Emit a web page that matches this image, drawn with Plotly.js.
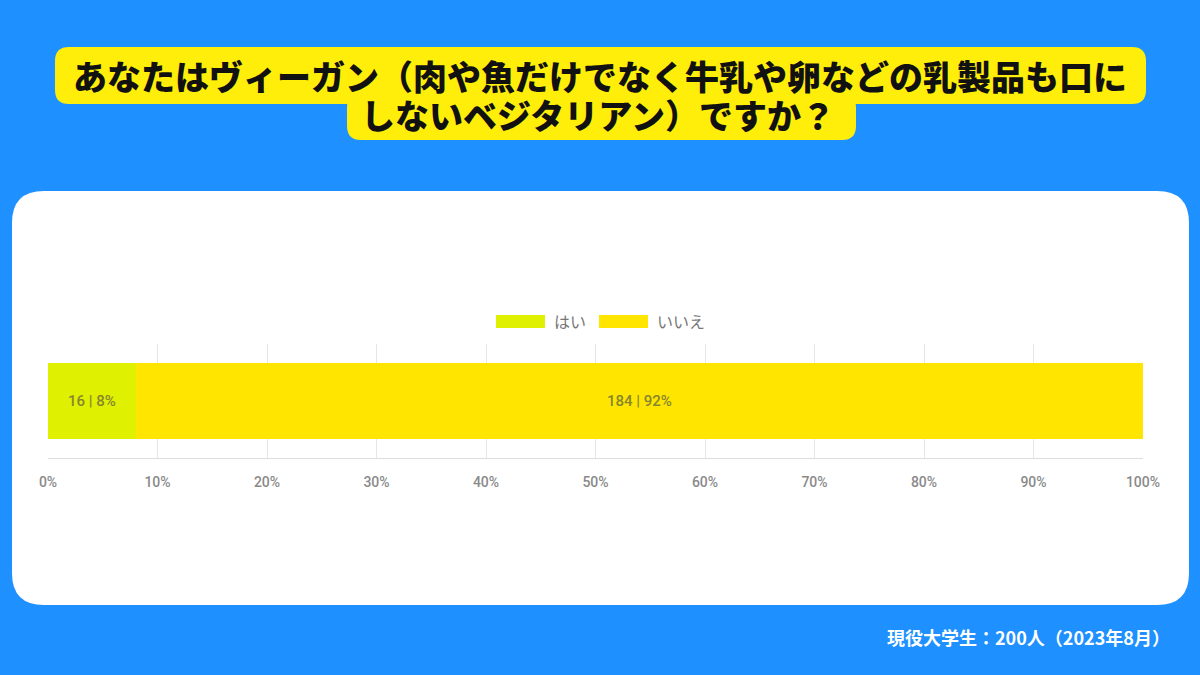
<!DOCTYPE html>
<html>
<head>
<meta charset="utf-8">
<script src="https://cdn.plot.ly/plotly-3.0.1.min.js"></script>
<style>
    html, body { margin: 0; padding: 0; background: #1E90FF; }
    #myDiv { width: 1200px; height: 675px; }
</style>
</head>
<body>
<div id="myDiv"></div>
<script>
/* global Plotly */

// Survey answers (one stacked bar)
const categories = ['回答'];
const seriesNames = ['はい', 'いいえ'];
const counts = [16, 184];
const percents = [8, 92];
const tickValues = [0, 10, 20, 30, 40, 50, 60, 70, 80, 90, 100];

const titleLines = [
    'あなたはヴィーガン（肉や魚だけでなく牛乳や卵などの乳製品も口に',
    'しないベジタリアン）ですか？'
];
const footerText = '現役大学生：200人（2023年8月）';

const W = 1200;
const H = 675;

// pixel -> paper coords
function px(x) { return (x / W).toFixed(5); }
function py(y) { return (1 - y / H).toFixed(5); }

/**
 * Rounded rectangle path (pixel input, paper output)
 */
function roundRect(x0, y0, x1, y1, r) {
    return 'M ' + px(x0 + r) + ',' + py(y0) +
        ' L ' + px(x1 - r) + ',' + py(y0) +
        ' Q ' + px(x1) + ',' + py(y0) + ' ' + px(x1) + ',' + py(y0 + r) +
        ' L ' + px(x1) + ',' + py(y1 - r) +
        ' Q ' + px(x1) + ',' + py(y1) + ' ' + px(x1 - r) + ',' + py(y1) +
        ' L ' + px(x0 + r) + ',' + py(y1) +
        ' Q ' + px(x0) + ',' + py(y1) + ' ' + px(x0) + ',' + py(y1 - r) +
        ' L ' + px(x0) + ',' + py(y0 + r) +
        ' Q ' + px(x0) + ',' + py(y0) + ' ' + px(x0 + r) + ',' + py(y0) + ' Z';
}

function runPlot() {
    'use strict';

    const colors = ['#DFF000', '#FFE500'];

    let traces = [];
    for (let i = 0; i < seriesNames.length; i++) {
        traces.push({
            type: 'bar',
            orientation: 'h',
            name: seriesNames[i],
            y: categories,
            x: [percents[i]],
            width: 0.667,
            marker: {color: colors[i], line: {width: 0}},
            text: [counts[i] + ' | ' + percents[i] + '%'],
            textposition: 'inside',
            insidetextanchor: 'middle',
            textangle: 0,
            textfont: {family: 'Roboto, Arial, sans-serif', size: 15, color: '#86862e', weight: 500},
            hoverinfo: 'skip'
        });
    }

    // Card, title boxes, legend swatches
    let shapes = [
        {type: 'path', xref: 'paper', yref: 'paper', layer: 'below',
            path: roundRect(12, 191, 1189, 605, 32),
            fillcolor: '#FFFFFF', line: {width: 0}},
        {type: 'path', xref: 'paper', yref: 'paper', layer: 'below',
            path: roundRect(55, 47, 1146, 104, 14),
            fillcolor: '#FFEE0A', line: {width: 0}},
        {type: 'path', xref: 'paper', yref: 'paper', layer: 'below',
            path: roundRect(347, 94, 856, 140, 14),
            fillcolor: '#FFEE0A', line: {width: 0}}
    ];

    const titleFont = {family: 'Noto Sans CJK JP', size: 34, color: '#111111', weight: 900};
    let annotations = [
        {xref: 'paper', yref: 'paper', x: 0.5, y: +py(76), showarrow: false,
            text: titleLines[0], xanchor: 'center', yanchor: 'middle', font: titleFont},
        {xref: 'paper', yref: 'paper', x: +px(598), y: +py(115), showarrow: false,
            text: titleLines[1], xanchor: 'center', yanchor: 'middle', font: titleFont},
        {xref: 'paper', yref: 'paper', x: +px(1172), y: +py(637), showarrow: false,
            text: footerText, xanchor: 'right', yanchor: 'middle',
            font: {family: 'Noto Sans CJK JP', size: 18, color: '#FFFFFF', weight: 'bold'}}
    ];

    // Custom legend with wide swatches
    const legendX = [496, 599];
    for (let i = 0; i < seriesNames.length; i++) {
        shapes.push({type: 'rect', xref: 'paper', yref: 'paper', layer: 'above',
            x0: +px(legendX[i]), x1: +px(legendX[i] + 49),
            y0: +py(328), y1: +py(315),
            fillcolor: colors[i], line: {width: 0}});
        annotations.push({xref: 'paper', yref: 'paper', x: +px(legendX[i] + 56), y: +py(321),
            showarrow: false, text: seriesNames[i], xanchor: 'left', yanchor: 'middle',
            font: {family: 'Noto Sans CJK JP', size: 16, color: '#777777'}});
    }

    let layout = {
        width: W,
        height: H,
        margin: {l: 0, r: 0, t: 0, b: 0, pad: 0},
        paper_bgcolor: '#1E90FF',
        plot_bgcolor: 'rgba(0,0,0,0)',
        barmode: 'stack',
        showlegend: false,
        bargap: 0,

        xaxis: {
            domain: [48 / W, 1143 / W],
            range: [0, 100],
            tickvals: tickValues,
            ticktext: tickValues.map(v => v + '%'),
            showgrid: true,
            gridcolor: '#E6E6E6',
            gridwidth: 1,
            zeroline: false,
            showline: true,
            linecolor: '#DDDDDD',
            linewidth: 1,
            ticks: '',
            ticklabelstandoff: 11,
            tickfont: {family: 'Roboto, Arial, sans-serif', size: 14, color: '#8A8A8A', weight: 500},
            fixedrange: true
        },
        yaxis: {
            domain: [1 - 458 / H, 1 - 344 / H],
            range: [-0.5, 0.5],
            visible: false,
            fixedrange: true
        },

        shapes: shapes,
        annotations: annotations
    };

    Plotly.newPlot('myDiv', traces, layout, {displayModeBar: false, staticPlot: true});
}

runPlot();
</script>
</body>
</html>
